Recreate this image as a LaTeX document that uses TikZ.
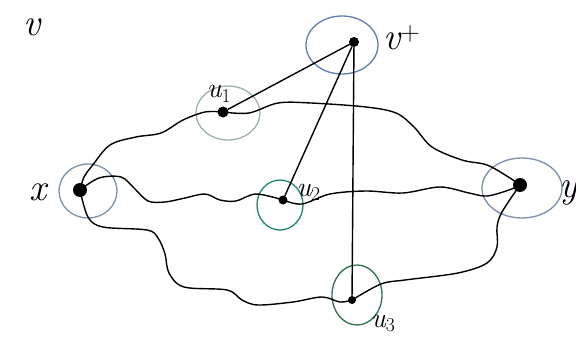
\documentclass[tikz,border=0pt]{standalone}
\usepackage{tikz}
\usetikzlibrary{positioning, shapes.geometric}

\definecolor{ringblue}{RGB}{95,125,180}
\definecolor{ringgrey}{RGB}{125,142,172}
\definecolor{ringgreen}{RGB}{30,135,105}
\definecolor{ringdark}{RGB}{45,115,75}
\definecolor{ringpale}{RGB}{155,178,165}

\begin{document}
\begin{tikzpicture}[
  x=1pt, y=-1pt,
  vertex/.style={circle, fill=black, inner sep=0pt, minimum size=#1},
  vertex/.default=9pt,
  ring/.style={draw=#1, ellipse, line width=1.3pt, inner sep=0pt},
  wire/.style={line width=1.4pt, line cap=round, line join=round},
  lbl/.style={font=\fontsize{38}{40}\selectfont\itshape, inner sep=0pt},
  sublbl/.style={font=\fontsize{28}{30}\selectfont\itshape, inner sep=0pt},
]
  \path[use as bounding box, fill=white] (0,0) rectangle (576,337);

  % rings
  \node[ring=ringgrey, minimum width=58pt, minimum height=54pt] (ringx) at (88,191) {};
  \node[ring=ringblue, minimum width=72pt, minimum height=58pt] (ringv) at (342,45) {};
  \node[ring=ringpale, minimum width=64pt, minimum height=54pt] (ringa) at (228,113) {};
  \node[ring=ringgreen, minimum width=46pt, minimum height=50pt] (ringb) at (280,205) {};
  \node[ring=ringdark, minimum width=50pt, minimum height=60pt] (ringc) at (357,295) {};
  \node[ring=ringgrey, minimum width=80pt, minimum height=60pt] (ringy) at (522,188) {};

  % vertices
  \node[vertex=14pt] (x)     at (80,190)  {};
  \node[vertex=10pt] (vplus) at (354,42)  {};
  \node[vertex=11pt] (u1)    at (223,112) {};
  \node[vertex=9pt]  (u2)    at (283,200) {};
  \node[vertex=8pt]  (u3)    at (352,300) {};
  \node[vertex=14pt] (y)     at (520,185) {};

  % labels
  \node[lbl] (lv) at (32,27) {v};
  \node[lbl, left=26pt of x, yshift=-2pt] (lx) {x};
  \node[lbl, right=24pt of vplus, yshift=4pt] (lvplus) {v\textsuperscript{\upshape +}};
  \node[sublbl, above=4pt of u1, xshift=-4pt] (lu1) {u\textsubscript{\upshape 1}};
  \node[sublbl, above right=-4pt and 10pt of u2] (lu2) {u\textsubscript{\upshape 2}};
  \node[sublbl, below right=12pt and 16pt of u3] (lu3) {u\textsubscript{\upshape 3}};
  \node[lbl, right=32pt of y, yshift=-8pt] (ly) {y};

  % straight edges from v+
  \foreach \b in {u1, u2, u3}
    \draw[wire] (vplus) -- (\b);

  % wavy paths from x to y
  \draw[wire] plot[smooth, tension=0.55] coordinates {(x.center) (84,177) (92,166)
    (110,145) (136,137) (161,133) (183,120) (205,112) (u1.center)};
  \draw[wire] plot[smooth, tension=0.55] coordinates {(u1.center) (249,113) (278,103)
    (311,103) (366,107) (396,113) (414,127) (432,147) (462,160) (487,165)
    (510,178) (y.center)};
  \draw[wire] plot[smooth, tension=0.55] coordinates {(x.center) (99,178) (121,177)
    (134,188) (148,201) (165,202) (185,198) (205,194) (220,200) (236,201)
    (256,194) (u2.center)};
  \draw[wire] plot[smooth, tension=0.55] coordinates {(u2.center) (302,204) (330,194)
    (366,191) (403,193) (440,187) (469,193) (487,196) (509,190) (y.center)};
  \draw[wire] plot[smooth, tension=0.55] coordinates {(x.center) (88,217) (103,227)
    (147,230) (158,238) (165,254) (169,273) (184,287) (227,290) (242,300)
    (258,305) (293,302) (322,297) (340,302) (u3.center)};
  \draw[wire] plot[smooth, tension=0.55] coordinates {(u3.center) (381,284) (405,280)
    (458,273) (487,263) (497,247) (497,227) (502,212) (y.center)};
\end{tikzpicture}
\end{document}
